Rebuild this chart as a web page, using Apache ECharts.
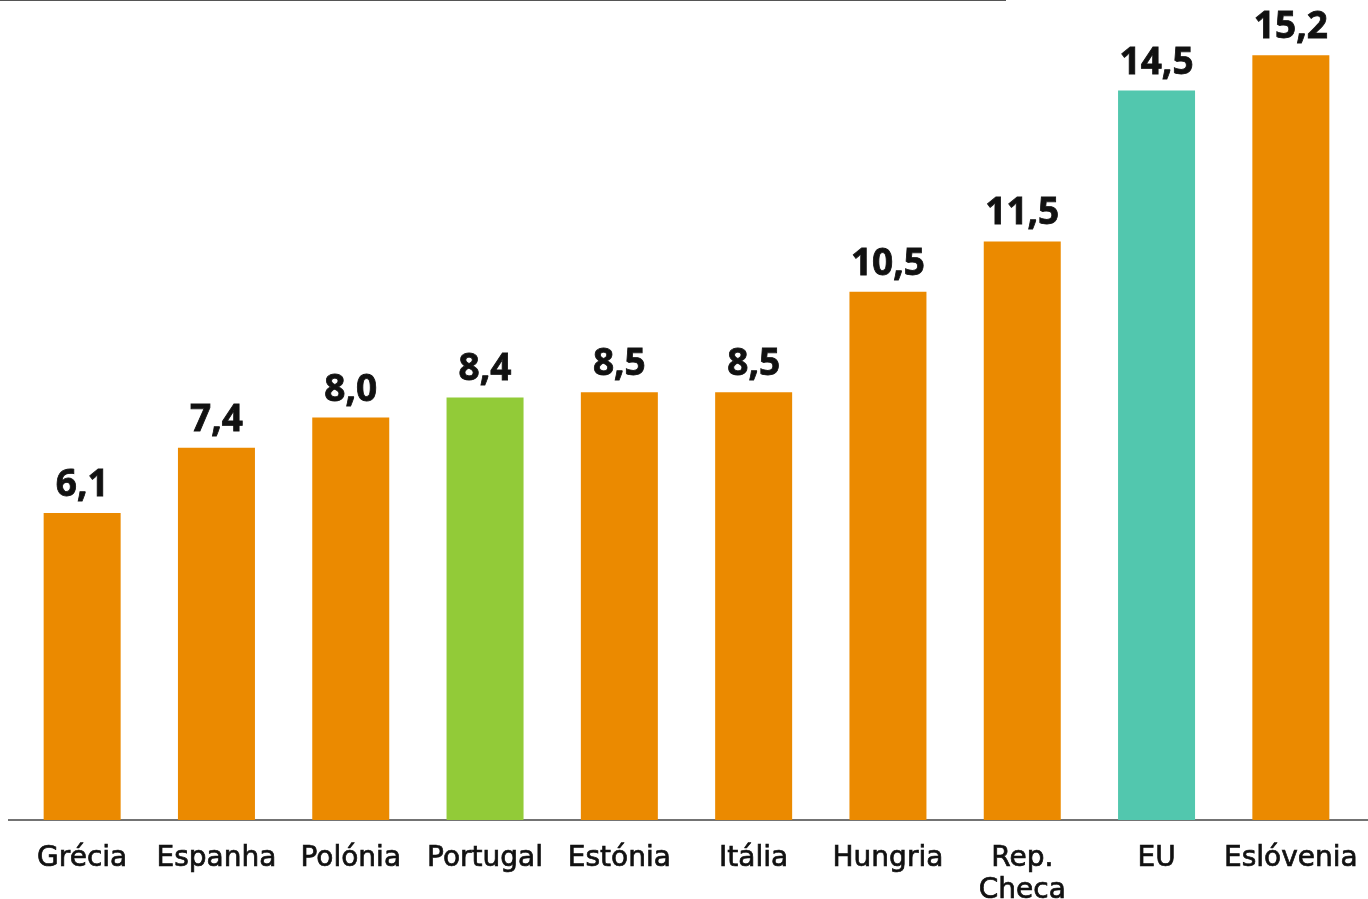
<!DOCTYPE html>
<html>
<head>
<meta charset="utf-8">
<script src="https://cdn.jsdelivr.net/npm/echarts@6/dist/echarts.min.js"></script>
<style>
  html, body { margin: 0; padding: 0; background: #fff; }
  #chart { width: 1368px; height: 899px; }
</style>
</head>
<body>
<div id="chart"></div>
<script>
// dados
var categorias = ['Grécia', 'Espanha', 'Polónia', 'Portugal', 'Estónia', 'Itália', 'Hungria', 'Rep.\nCheca', 'EU', 'Eslóvenia'];
var valores = [6.1, 7.4, 8.0, 8.4, 8.5, 8.5, 10.5, 11.5, 14.5, 15.2];

var corBase = '#EB8A00';
var destaque = { 'Portugal': '#92CB38', 'EU': '#52C7AE' };

var myChart = echarts.init(document.getElementById('chart'));

var option = {
    animation: false,
    grid: { left: 15, right: 10, top: 15, bottom: 79, containLabel: false, outerBoundsMode: 'none' },
    xAxis: {
        type: 'category',
        data: categorias,
        axisLine: { show: false },
        axisTick: { show: false },
        axisLabel: {
            interval: 0,
            margin: 23,
            color: '#111',
            fontFamily: 'DejaVu Sans',
            fontWeight: 'normal',
            fontSize: 28,
            lineHeight: 32,
            textBorderColor: '#111',
            textBorderWidth: 0.7
        }
    },
    yAxis: {
        type: 'value',
        min: 0,
        max: 16,
        show: false,
        splitLine: { show: false }
    },
    series: [{
        type: 'bar',
        barWidth: 77,
        data: valores.map(function (v, i) {
            return {
                value: v,
                itemStyle: { color: destaque[categorias[i]] || corBase }
            };
        }),
        label: {
            show: true,
            position: 'top',
            distance: 9,
            color: '#111',
            fontFamily: 'Noto Sans',
            fontWeight: 'bold',
            fontSize: 37,
            textBorderColor: '#111',
            textBorderWidth: 0.8,
            formatter: function (p) {
                return p.value.toFixed(1).replace('.', ',');
            }
        }
    }],
    graphic: [
        { type: 'line', shape: { x1: 8, y1: 820, x2: 1368, y2: 820 }, style: { stroke: '#444', lineWidth: 1.5 } },
        { type: 'line', shape: { x1: 0, y1: 0.5, x2: 1006, y2: 0.5 }, style: { stroke: '#555', lineWidth: 1 } }
    ]
};

myChart.setOption(option);
</script>
</body>
</html>
